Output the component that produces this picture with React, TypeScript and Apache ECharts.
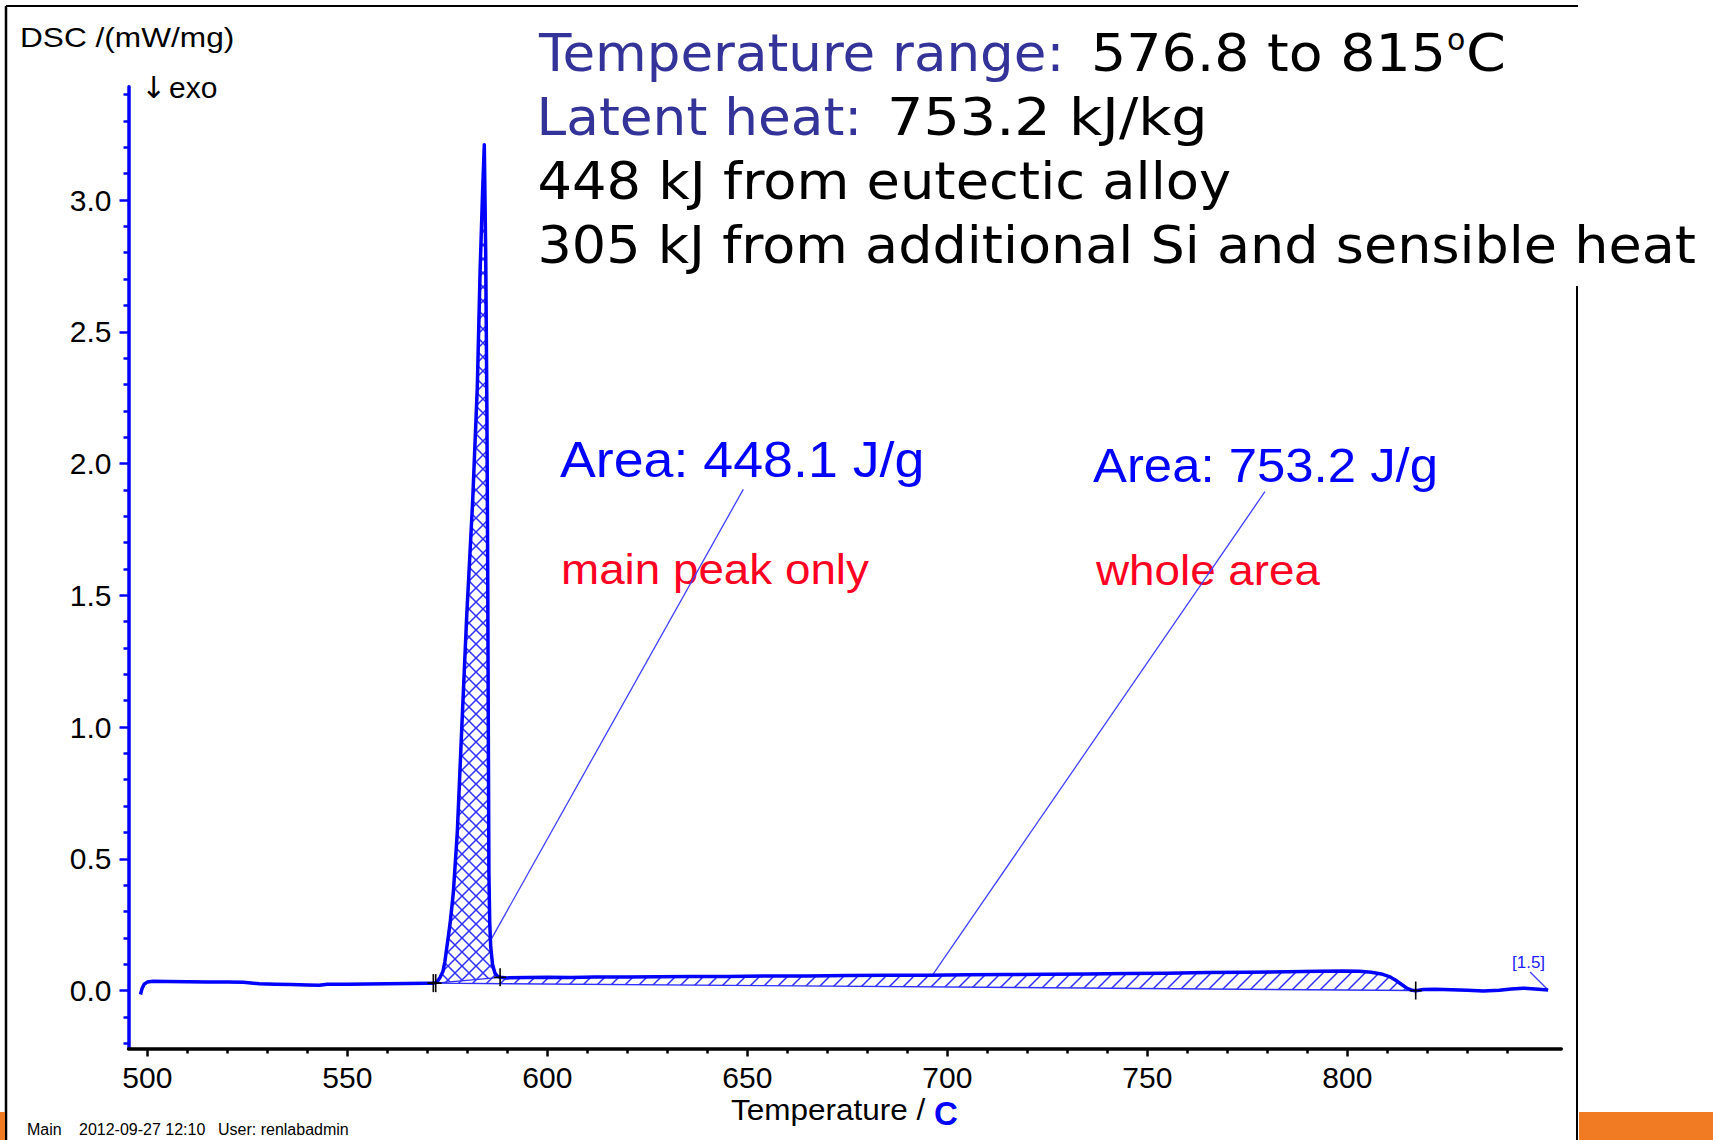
import { useEffect, useRef } from 'react';
import * as echarts from 'echarts';

// DSC heating trace: temperature (°C) vs heat flow DSC (mW/mg)
const preMelt: [number, number][] = [
  [498.3, -0.015], [498.7, 0.008], [499.2, 0.024], [500.0, 0.032], [501.5, 0.035],
  [505, 0.034], [510, 0.033], [515, 0.032], [520, 0.032], [524, 0.031],
  [528, 0.026], [532, 0.024], [536, 0.023], [540, 0.021], [543, 0.020],
  [545, 0.024], [550, 0.024], [555, 0.025], [560, 0.026], [565, 0.027],
  [570, 0.028], [571.5, 0.028],
];

const mainPeak: [number, number][] = [
  [572.1, 0.030], [572.6, 0.036], [573.2, 0.050], [573.9, 0.072], [574.4, 0.110],
  [574.85, 0.160], [575.7, 0.255], [576.5, 0.370], [577.5, 0.600], [578.6, 0.990],
  [579.85, 1.420], [581.35, 1.860], [582.5, 2.290], [583.2, 2.730], [583.8, 3.020],
  [584.25, 3.210], [584.6, 2.800], [584.9, 2.200], [585.1, 1.600], [585.25, 1.000],
  [585.4, 0.450], [585.6, 0.260], [585.85, 0.166], [586.3, 0.100], [586.9, 0.066],
  [587.5, 0.055], [588.2, 0.050],
];

const plateau: [number, number][] = [
  [590, 0.048], [595, 0.049], [600, 0.050], [606, 0.049], [612, 0.051],
  [620, 0.051], [628, 0.052], [636, 0.053], [645, 0.053], [655, 0.055],
  [665, 0.055], [675, 0.057], [685, 0.058], [695, 0.058], [705, 0.060],
  [715, 0.061], [725, 0.062], [735, 0.063], [745, 0.065], [755, 0.066],
  [765, 0.068], [775, 0.069], [785, 0.071], [793, 0.073], [799, 0.074],
  [803, 0.073], [806, 0.069], [808.5, 0.063], [810.5, 0.053], [812, 0.040],
  [813.5, 0.024], [815, 0.008], [816.2, 0.001], [817.1, -0.001],
];

const tail: [number, number][] = [
  [819, 0.004], [822, 0.005], [826, 0.003], [830, 0.001], [834, -0.002],
  [838, 0.001], [841, 0.006], [844, 0.009], [847, 0.006], [850.2, 0.002],
];

const dscCurve: [number, number][] = [...preMelt, ...mainPeak, ...plateau, ...tail];

// Integration limits (start, end) of the two evaluated areas
const wholeAreaLimits: [number, number][] = [[571.5, 0.028], [817.1, 0.0]];
const mainPeakLimits: [number, number][] = [[572.1, 0.028], [588.2, 0.05]];
const integrationMarks: [number, number][] = [
  [571.5, 0.028], [572.1, 0.028], [588.2, 0.05], [817.1, 0.0],
];

// Leader lines from the result labels down to the trace
const peakLeader: [number, number][] = [[649, 1.902], [586.1, 0.198]];
const wholeLeader: [number, number][] = [[779.4, 1.893], [696.2, 0.0565]];
const curveTagLeader: [number, number][] = [[845.7, 0.07], [850.2, 0.002]];

// Axis ticks
const yMajorTicks = [0, 0.5, 1.0, 1.5, 2.0, 2.5, 3.0];
const yMinorTicks = [
  -0.2, -0.1, 0.1, 0.2, 0.3, 0.4, 0.6, 0.7, 0.8, 0.9, 1.1, 1.2, 1.3, 1.4,
  1.6, 1.7, 1.8, 1.9, 2.1, 2.2, 2.3, 2.4, 2.6, 2.7, 2.8, 2.9, 3.1, 3.2, 3.3, 3.4,
];
const xMajorTicks = [500, 550, 600, 650, 700, 750, 800];
const xMinorTicks = [
  510, 520, 530, 540, 560, 570, 580, 590, 610, 620, 630, 640, 660, 670, 680, 690,
  710, 720, 730, 740, 760, 770, 780, 790, 810, 820, 830, 840,
];

// Text
const headerLines = {
  rangeLabel: 'Temperature range:',
  rangeValue: '576.8 to 815',
  latentLabel: 'Latent heat:',
  latentValue: '753.2 kJ/kg',
  eutectic: '448 kJ from eutectic alloy',
  additional: '305 kJ from additional Si and sensible heat',
};
const peakAreaText = 'Area: 448.1 J/g';
const peakNote = 'main peak only';
const wholeAreaText = 'Area: 753.2 J/g';
const wholeNote = 'whole area';
const footer = ['Main', '2012-09-27 12:10', 'User: renlabadmin'];

const X_MIN = 495.3;
const X_MAX = 853.5;
const Y_MIN = -0.22;
const Y_MAX = 3.43;

const TRACE_BLUE = '#0000ff';
const HATCH_BLUE = '#2f2fff';
const ARIAL = '"Liberation Sans", Arial, sans-serif';
const VERDANA = '"DejaVu Sans", Verdana, sans-serif';

function hatch(direction: 'rise' | 'fall') {
  const s = 14;
  const c = document.createElement('canvas');
  c.width = s;
  c.height = s;
  const ctx = c.getContext('2d')!;
  ctx.strokeStyle = HATCH_BLUE;
  ctx.lineWidth = 1.5;
  ctx.beginPath();
  if (direction === 'rise') {
    ctx.moveTo(-2, s + 2); ctx.lineTo(s + 2, -2);
    ctx.moveTo(-2, 2); ctx.lineTo(2, -2);
    ctx.moveTo(s - 2, s + 2); ctx.lineTo(s + 2, s - 2);
  } else {
    ctx.moveTo(-2, -2); ctx.lineTo(s + 2, s + 2);
    ctx.moveTo(s - 2, -2); ctx.lineTo(s + 2, 2);
    ctx.moveTo(-2, s - 2); ctx.lineTo(2, s + 2);
  }
  ctx.stroke();
  return { image: c.toDataURL(), repeat: 'repeat', imageWidth: s, imageHeight: s };
}

function regionPolygon(limits: [number, number][]) {
  const [a, b] = limits;
  const pts: [number, number][] = [a];
  for (const p of dscCurve) if (p[0] > a[0] && p[0] < b[0]) pts.push(p);
  pts.push(b);
  return pts;
}

function text(
  str: string, x: number, y: number, font: string, fill: string, scaleX = 1,
) {
  return {
    type: 'text',
    x,
    y,
    scaleX,
    silent: true,
    style: {
      text: str,
      font,
      fill,
      align: 'left',
      textAlign: 'left',
      verticalAlign: 'middle',
      textVerticalAlign: 'middle',
    },
  };
}

function hline(x1: number, y1: number, x2: number, y2: number, stroke: string, lineWidth: number) {
  return { type: 'line', silent: true, shape: { x1, y1, x2, y2 }, style: { stroke, lineWidth } };
}

export default function App() {
  const ref = useRef<HTMLDivElement>(null);

  useEffect(() => {
    if (!ref.current) return;
    const chart = echarts.init(ref.current, null, { renderer: 'svg' });

    const areaSeries = (limits: [number, number][], fill: any, z: number) => ({
      type: 'custom',
      coordinateSystem: 'cartesian2d',
      z,
      silent: true,
      data: [limits[0]],
      renderItem: (_params: any, api: any) => ({
        type: 'polygon',
        shape: { points: regionPolygon(limits).map((p) => api.coord(p)) },
        style: { fill, stroke: HATCH_BLUE, lineWidth: 1.4 },
      }),
    });

    const option: any = {
      animation: false,
      backgroundColor: '#ffffff',
      grid: {
        left: 128.5,
        right: 1713 - 1561.3,
        top: 86.7,
        bottom: 1140 - 1048.5,
        containLabel: false,
        outerBoundsMode: 'none',
      },
      xAxis: [
        {
          type: 'value',
          min: X_MIN,
          max: X_MAX,
          position: 'bottom',
          axisLine: { show: true, onZero: false, lineStyle: { color: '#000', width: 3.5 } },
          axisTick: { show: true, customValues: xMajorTicks, length: 8, lineStyle: { color: '#000', width: 2.5 } },
          axisLabel: {
            customValues: xMajorTicks,
            color: '#000',
            fontFamily: ARIAL,
            fontSize: 30,
            margin: 14,
          },
          splitLine: { show: false },
        },
        {
          type: 'value',
          min: X_MIN,
          max: X_MAX,
          position: 'bottom',
          axisLine: { show: false, onZero: false },
          axisTick: { show: true, customValues: xMinorTicks, length: 5, lineStyle: { color: '#000', width: 2.5 } },
          axisLabel: { show: false },
          splitLine: { show: false },
        },
      ],
      yAxis: [
        {
          type: 'value',
          min: Y_MIN,
          max: Y_MAX,
          position: 'left',
          axisLine: { show: true, onZero: false, lineStyle: { color: TRACE_BLUE, width: 3.5 } },
          axisTick: { show: true, customValues: yMajorTicks, length: 9, lineStyle: { color: TRACE_BLUE, width: 2.5 } },
          axisLabel: {
            customValues: yMajorTicks,
            formatter: (v: number) => v.toFixed(1),
            color: '#000',
            fontFamily: ARIAL,
            fontSize: 30,
            margin: 17,
          },
          splitLine: { show: false },
        },
        {
          type: 'value',
          min: Y_MIN,
          max: Y_MAX,
          position: 'left',
          axisLine: { show: false, onZero: false },
          axisTick: { show: true, customValues: yMinorTicks, length: 5, lineStyle: { color: TRACE_BLUE, width: 2.5 } },
          axisLabel: { show: false },
          splitLine: { show: false },
        },
      ],
      series: [
        areaSeries(wholeAreaLimits, hatch('rise'), 1),
        areaSeries(mainPeakLimits, hatch('fall'), 2),
        {
          type: 'line',
          data: dscCurve,
          xAxisIndex: 0,
          yAxisIndex: 0,
          symbol: 'none',
          showSymbol: false,
          silent: true,
          z: 5,
          lineStyle: { color: TRACE_BLUE, width: 3.5, join: 'round' },
          markLine: {
            silent: true,
            symbol: ['none', 'none'],
            label: { show: false },
            lineStyle: { color: '#4040ff', width: 1.3, type: 'solid' },
            data: [peakLeader, wholeLeader, curveTagLeader].map((seg) => [
              { coord: seg[0] },
              { coord: seg[1] },
            ]),
          },
        },
        {
          type: 'custom',
          coordinateSystem: 'cartesian2d',
          z: 6,
          silent: true,
          data: integrationMarks,
          renderItem: (_params: any, api: any) => {
            const [x, y] = api.coord([api.value(0), api.value(1)]);
            return {
              type: 'group',
              children: [
                { type: 'line', shape: { x1: x, y1: y - 9, x2: x, y2: y + 9 }, style: { stroke: '#000', lineWidth: 1.6 } },
                { type: 'line', shape: { x1: x - 6, y1: y, x2: x + 6, y2: y }, style: { stroke: '#000', lineWidth: 1.6 } },
              ],
            };
          },
        },
      ],
      graphic: [
        // frame and slide accents
        hline(6, 6, 1578, 6, '#000', 2),
        hline(6, 6, 6, 1140, '#000', 2.5),
        hline(1577, 286, 1577, 1140, '#000', 2),
        { type: 'rect', silent: true, shape: { x: 0, y: 1112, width: 5, height: 28 }, style: { fill: '#f07b22' } },
        { type: 'rect', silent: true, shape: { x: 1579, y: 1112, width: 134, height: 28 }, style: { fill: '#f07b22' } },

        // axis captions
        text('DSC /(mW/mg)', 20, 37.6, `28px ${ARIAL}`, '#000', 1.13),
        text('↓', 141, 87, `30px ${VERDANA}`, '#000'),
        text('exo', 169, 87, `30px ${ARIAL}`, '#000'),
        text('Temperature /', 731, 1109.6, `30px ${ARIAL}`, '#000', 1.05),
        text('C', 934, 1113.6, `bold 33px ${ARIAL}`, TRACE_BLUE),
        text('[1.5]', 1512, 962.5, `17px ${ARIAL}`, '#2020ff'),

        // evaluation results
        text(peakAreaText, 560, 459.4, `50px ${ARIAL}`, TRACE_BLUE, 1.075),
        text(peakNote, 561, 569.1, `43px ${ARIAL}`, '#ff0022', 1.065),
        text(wholeAreaText, 1093, 465.1, `48px ${ARIAL}`, TRACE_BLUE, 1.06),
        text(wholeNote, 1096, 570.1, `43px ${ARIAL}`, '#ff0022', 1.065),

        // header block
        text(headerLines.rangeLabel, 539, 52.7, `52px ${VERDANA}`, '#333399', 1.021),
        text(headerLines.rangeValue, 1091, 52.7, `52px ${VERDANA}`, '#000', 1.065),
        text('o', 1447, 39.9, `30px ${VERDANA}`, '#000'),
        text('C', 1466, 52.7, `52px ${VERDANA}`, '#000', 1.1),
        text(headerLines.latentLabel, 536.6, 117, `52px ${VERDANA}`, '#333399', 1.025),
        text(headerLines.latentValue, 887, 117, `52px ${VERDANA}`, '#000', 1.1),
        text(headerLines.eutectic, 537.5, 181.3, `52px ${VERDANA}`, '#000', 1.044),
        text(headerLines.additional, 537.5, 245.3, `52px ${VERDANA}`, '#000', 1.039),

        // footer
        text(footer[0], 27, 1129.5, `16px ${ARIAL}`, '#000'),
        text(footer[1], 79, 1129.5, `16px ${ARIAL}`, '#000'),
        text(footer[2], 218, 1129.5, `16px ${ARIAL}`, '#000'),
      ],
    };

    chart.setOption(option);
    return () => chart.dispose();
  }, []);

  return (
    <div
      ref={ref}
      style={{ position: 'fixed', left: 0, top: 0, width: 1713, height: 1140, background: '#fff' }}
    />
  );
}
